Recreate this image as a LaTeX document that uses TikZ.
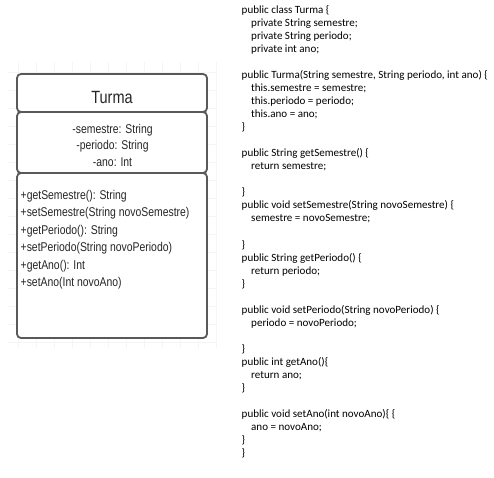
\documentclass[tikz,border=0pt]{standalone}
\usepackage{fontspec}
\setmainfont{Carlito}
\newfontfamily\umlfont[FakeStretch=0.82]{Liberation Sans}
\newfontfamily\codefont{Carlito}
\begin{document}
\begin{tikzpicture}[x=1pt,y=-1pt,
  umlbox/.style={draw=black!65, line width=1.8pt, fill=white, rounded corners=4pt},
  umltext/.style={inner sep=0pt, text=black!85, font=\umlfont\fontsize{12.7}{14}\selectfont},
  codeline/.style={inner sep=0pt, anchor=base west, text=black, font=\codefont\fontsize{11.05}{13}\selectfont}]
\useasboundingbox (0,0) rectangle (494,477);
\fill[white] (0,0) rectangle (494,477);
% faint grid
\draw[black!4, line width=0.5pt, step=18pt] (8,62) grid (216,348);
% class boxes
\draw[umlbox] (17,74) rectangle (207,112);
\draw[umlbox] (17,112) rectangle (207,173);
\draw[umlbox] (17,173) rectangle (207,338);
\node[inner sep=0pt, anchor=base, text=black!85, font=\umlfont\fontsize{17.7}{20}\selectfont] (name) at (112,103.3) {Turma};
\node[umltext, anchor=base] (a1) at (112.5,133.3) {-semestre: String};
\node[umltext, anchor=base] (a2) at (112.5,149.6) {-periodo: String};
\node[umltext, anchor=base] (a3) at (112.5,166) {-ano: Int};
\node[umltext, anchor=base west] (m1) at (20.5,199.5) {+getSemestre(): String};
\node[umltext, anchor=base west] (m2) at (20.5,216.9) {+setSemestre(String novoSemestre)};
\node[umltext, anchor=base west] (m3) at (20.5,234.3) {+getPeriodo(): String};
\node[umltext, anchor=base west] (m4) at (20.5,251.7) {+setPeriodo(String novoPeriodo)};
\node[umltext, anchor=base west] (m5) at (20.5,269.1) {+getAno(): Int};
\node[umltext, anchor=base west] (m6) at (20.5,286.5) {+setAno(Int novoAno)};
% code
\def\cx{241.5}
\def\ci{251}
\newcommand{\codeat}[3]{\node[codeline] (c#1) at (#2,{13.3+13.04*#1}) {#3};}
\codeat{0}{\cx}{public class Turma \{}
\codeat{1}{\ci}{private String semestre;}
\codeat{2}{\ci}{private String periodo;}
\codeat{3}{\ci}{private int ano;}
\codeat{5}{\cx}{public Turma(String semestre, String periodo, int ano) \{}
\codeat{6}{\ci}{this.semestre = semestre;}
\codeat{7}{\ci}{this.periodo = periodo;}
\codeat{8}{\ci}{this.ano = ano;}
\codeat{9}{\cx}{\}}
\codeat{11}{\cx}{public String getSemestre() \{}
\codeat{12}{\ci}{return semestre;}
\codeat{14}{\cx}{\}}
\codeat{15}{\cx}{public void setSemestre(String novoSemestre) \{}
\codeat{16}{\ci}{semestre = novoSemestre;}
\codeat{18}{\cx}{\}}
\codeat{19}{\cx}{public String getPeriodo() \{}
\codeat{20}{\ci}{return periodo;}
\codeat{21}{\cx}{\}}
\codeat{23}{\cx}{public void setPeriodo(String novoPeriodo) \{}
\codeat{24}{\ci}{periodo = novoPeriodo;}
\codeat{26}{\cx}{\}}
\codeat{27}{\cx}{public int getAno()\{}
\codeat{28}{\ci}{return ano;}
\codeat{29}{\cx}{\}}
\codeat{31}{\cx}{public void setAno(int novoAno)\{ \{}
\codeat{32}{\ci}{ano = novoAno;}
\codeat{33}{\cx}{\}}
\codeat{34}{\cx}{\}}
\end{tikzpicture}
\end{document}
